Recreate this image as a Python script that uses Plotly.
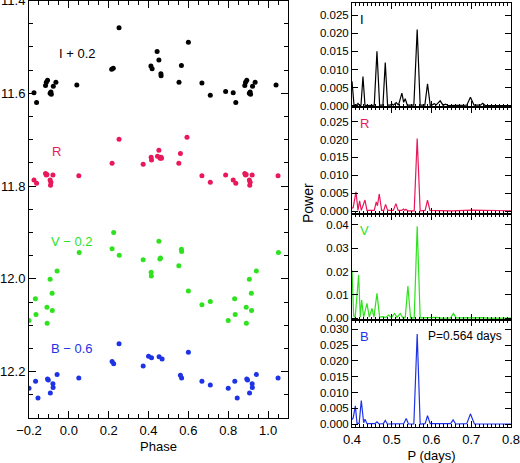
import plotly.graph_objects as go

# ---- light curves (phase in [0,1), magnitude incl. offset) ----
I_PHASE = [0.04, 0.215, 0.223, 0.252, 0.412, 0.418, 0.443, 0.452, 0.462, 0.463, 0.553, 0.565,
           0.600, 0.668, 0.710, 0.787, 0.825, 0.838, 0.883, 0.887, 0.893, 0.906, 0.910, 0.912,
           0.922, 0.935]
I_MAG = [11.582, 11.548, 11.546, 11.459, 11.541, 11.547, 11.510, 11.528, 11.558, 11.562, 11.576, 11.540,
         11.490, 11.578, 11.604, 11.596, 11.599, 11.620, 11.583, 11.576, 11.572, 11.600, 11.597, 11.602,
         11.585, 11.576]

R_PHASE = [0.05, 0.217, 0.252, 0.373, 0.413, 0.415, 0.445, 0.452, 0.458, 0.463, 0.465, 0.552,
           0.560, 0.593, 0.668, 0.710, 0.787, 0.825, 0.838, 0.883, 0.887, 0.890, 0.906, 0.910,
           0.908, 0.920]
R_MAG = [11.778, 11.751, 11.699, 11.753, 11.738, 11.744, 11.736, 11.723, 11.740, 11.738, 11.740, 11.751,
         11.730, 11.695, 11.778, 11.792, 11.776, 11.787, 11.794, 11.773, 11.776, 11.775, 11.787, 11.792,
         11.798, 11.776]

V_PHASE = [0.052, 0.217, 0.225, 0.253, 0.373, 0.413, 0.414, 0.452, 0.457, 0.460, 0.552, 0.565,
           0.566, 0.600, 0.668, 0.710, 0.800, 0.832, 0.835, 0.890, 0.891, 0.906, 0.916, 0.917, 0.941]
V_MAG = [11.943, 11.935, 11.900, 11.949, 11.959, 11.986, 11.994, 11.919, 11.957, 11.955, 11.972, 11.936,
         11.941, 12.026, 12.056, 12.049, 12.090, 12.043, 12.077, 12.061, 12.096, 12.001, 12.031, 12.068,
         11.983]

B_PHASE = [0.05, 0.217, 0.225, 0.252, 0.373, 0.400, 0.415, 0.453, 0.468, 0.560, 0.566, 0.600,
           0.668, 0.710, 0.800, 0.833, 0.845, 0.893, 0.897, 0.920, 0.921, 0.907, 0.941]
B_MAG = [12.214, 12.178, 12.183, 12.140, 12.188, 12.167, 12.170, 12.168, 12.173, 12.208, 12.214, 12.158,
         12.221, 12.229, 12.236, 12.221, 12.257, 12.216, 12.218, 12.226, 12.234, 12.246, 12.206]

# ---- periodograms (period in days, power) ----
I_P = [0.4000, 0.4050, 0.4110, 0.4151, 0.4190, 0.4226, 0.4276, 0.4326, 0.4400, 0.4560, 0.4628, 0.4695,
       0.4778, 0.4837, 0.4895, 0.4960, 0.5004, 0.5040, 0.5113, 0.5170, 0.5255, 0.5300, 0.5339, 0.5390,
       0.5556, 0.5640, 0.5715, 0.5833, 0.5900, 0.5967, 0.6020, 0.6067, 0.6120, 0.6218, 0.6290, 0.6351,
       0.6420, 0.6887, 0.6979, 0.7071, 0.7230, 0.7289, 0.7350, 0.8000]
I_POW = [0.0068, 0.0003, 0.0002, 0.0007, 0.0001, 0.0002, 0.0081, 0.0002, 0.0001, 0.0002, 0.0150, 0.0002,
         0.0002, 0.0119, 0.0002, 0.0002, 0.0005, 0.0002, 0.0009, 0.0002, 0.0035, 0.0010, 0.0020, 0.0002,
         0.0002, 0.0210, 0.0002, 0.0002, 0.0061, 0.0002, 0.0003, 0.0006, 0.0003, 0.0014, 0.0002, 0.0005,
         0.0001, 0.0002, 0.0024, 0.0002, 0.0002, 0.0007, 0.0001, 0.0001]

R_P = [0.4000, 0.4030, 0.4100, 0.4151, 0.4192, 0.4234, 0.4326, 0.4377, 0.4560, 0.4610, 0.4640, 0.4686,
       0.4745, 0.4800, 0.4845, 0.4895, 0.5040, 0.5105, 0.5160, 0.5250, 0.5297, 0.5330, 0.5356, 0.5400,
       0.5565, 0.5640, 0.5715, 0.5840, 0.5900, 0.5960, 0.6500, 0.7013, 0.8000]
R_POW = [0.0008, 0.0010, 0.0054, 0.0002, 0.0029, 0.0002, 0.0031, 0.0002, 0.0002, 0.0026, 0.0015, 0.0048,
         0.0002, 0.0002, 0.0019, 0.0002, 0.0002, 0.0021, 0.0002, 0.0002, 0.0006, 0.0002, 0.0005, 0.0001,
         0.0001, 0.0203, 0.0001, 0.0002, 0.0031, 0.0002, 0.0001, 0.0003, 0.0001]

V_P = [0.4000, 0.4042, 0.4080, 0.4167, 0.4209, 0.4243, 0.4293, 0.4377, 0.4435, 0.4502, 0.4552, 0.4628,
       0.4695, 0.4778, 0.4845, 0.4921, 0.4990, 0.5071, 0.5130, 0.5213, 0.5280, 0.5339, 0.5406, 0.5473,
       0.5565, 0.5640, 0.5715, 0.5883, 0.5950, 0.6134, 0.6250, 0.6480, 0.6552, 0.6620, 0.7289, 0.7400,
       0.8000]
V_POW = [0.0206, 0.0010, 0.0005, 0.0185, 0.0005, 0.0078, 0.0005, 0.0064, 0.0005, 0.0043, 0.0005, 0.0107,
         0.0005, 0.0007, 0.0003, 0.0014, 0.0003, 0.0021, 0.0004, 0.0021, 0.0002, 0.0003, 0.0138, 0.0002,
         0.0002, 0.0394, 0.0002, 0.0003, 0.0001, 0.0004, 0.0001, 0.0002, 0.0021, 0.0002, 0.0003, 0.0001,
         0.0001]

B_P = [0.4000, 0.4030, 0.4084, 0.4126, 0.4180, 0.4234, 0.4293, 0.4326, 0.4377, 0.4580, 0.4628, 0.4680,
       0.4790, 0.4837, 0.4890, 0.5110, 0.5155, 0.5200, 0.5300, 0.5364, 0.5420, 0.5556, 0.5640, 0.5715,
       0.5840, 0.5900, 0.5967, 0.6480, 0.6544, 0.6610, 0.6887, 0.6979, 0.7079, 0.8000]
B_POW = [0.0015, 0.0020, 0.0058, 0.0003, 0.0003, 0.0075, 0.0005, 0.0016, 0.0002, 0.0002, 0.0008, 0.0001,
         0.0002, 0.0012, 0.0001, 0.0001, 0.0003, 0.0001, 0.0002, 0.0018, 0.0001, 0.0001, 0.0285, 0.0001,
         0.0002, 0.0027, 0.0002, 0.0002, 0.0014, 0.0001, 0.0002, 0.0033, 0.0001, 0.0001]

P_TICKS = [0.4, 0.5, 0.6, 0.7, 0.8]
PHASE_TICKS = [-0.2, 0.0, 0.2, 0.4, 0.6, 0.8, 1.0]
MAG_TICKS = [11.4, 11.6, 11.8, 12.0, 12.2]

BLACK, RED, GREEN, BLUE = "#000000", "#E8185A", "#2EE21E", "#1E32E6"
FONT = "Liberation Sans, Arial, Helvetica, sans-serif"
W, H = 520, 463


def fold(phase, mag, lo=-0.2001, hi=1.1):
    xs, ys = [], []
    for p, m in zip(phase, mag):
        for s in (-1, 0, 1):
            if lo <= p + s <= hi:
                xs.append(p + s)
                ys.append(m)
    return xs, ys


def px_dom(a, b):
    return [a / W, b / W]


def py_dom(top, bot):
    return [(H - bot) / H, (H - top) / H]


fig = go.Figure()

for ph, mg, c in [(I_PHASE, I_MAG, BLACK), (R_PHASE, R_MAG, RED), (V_PHASE, V_MAG, GREEN), (B_PHASE, B_MAG, BLUE)]:
    xs, ys = fold(ph, mg)
    fig.add_trace(go.Scatter(x=xs, y=ys, mode="markers", marker=dict(size=5, color=c),
                             xaxis="x", yaxis="y", showlegend=False))

curves = [(I_P, I_POW, BLACK), (R_P, R_POW, RED), (V_P, V_POW, GREEN), (B_P, B_POW, BLUE)]
for i, (p, pw, c) in enumerate(curves):
    fig.add_trace(go.Scatter(x=p, y=pw, mode="lines", line=dict(color=c, width=1.2),
                             xaxis=f"x{i + 2}", yaxis=f"y{i + 2}", showlegend=False))

axis_common = dict(showline=True, linecolor="black", linewidth=1, mirror="allticks", ticks="inside",
                   tickcolor="black", showgrid=False, zeroline=False, automargin=False,
                   ticklabeloverflow="allow",
                   tickfont=dict(family=FONT, size=13, color="black"))

layout = dict(
    template="none",
    width=W, height=H, margin=dict(l=0, r=0, t=0, b=0, autoexpand=False),
    plot_bgcolor="white", paper_bgcolor="white", font=dict(family=FONT, color="black"),
    xaxis=dict(axis_common, domain=px_dom(29, 288), range=[-0.2, 1.1], tickvals=PHASE_TICKS, ticklen=7,
               tickformat=".1f", minor=dict(dtick=0.05, tick0=0, ticklen=4, ticks="inside", tickcolor="black"),
               title=dict(text="Phase", font=dict(family=FONT, size=13), standoff=5), anchor="y"),
    yaxis=dict(axis_common, domain=py_dom(0.5, 418), range=[12.3, 11.4], tickvals=MAG_TICKS, ticklen=7,
               tickformat=".1f", minor=dict(dtick=0.05, tick0=11.4, ticklen=4, ticks="inside", tickcolor="black"),
               anchor="x"),
)

panels = [(3, 107, [-0.0003, 0.0283], 0.005, ".3f"),
          (107, 214, [-0.0008, 0.0291], 0.005, ".3f"),
          (214, 320, [-0.0007, 0.0446], 0.01, ".2f"),
          (320, 427, [-0.00085, 0.0329], 0.005, ".3f")]
for i, (top, bot, yr, dt, fmt) in enumerate(panels):
    n = i + 2
    xa = dict(axis_common, domain=px_dom(352, 511), range=[0.4, 0.8], tickvals=P_TICKS, ticklen=6,
              tickformat=".1f", minor=dict(dtick=0.01, tick0=0.4, ticklen=3, ticks="inside", tickcolor="black"),
              anchor=f"y{n}", showticklabels=(i == 3))
    if i == 3:
        xa["title"] = dict(text="P (days)", font=dict(family=FONT, size=13), standoff=5)
    layout[f"xaxis{n}"] = xa
    layout[f"yaxis{n}"] = dict(axis_common, domain=py_dom(top, bot), range=yr, tick0=0, dtick=dt,
                               ticklen=6, tickformat=fmt, anchor=f"x{n}",
                               tickfont=dict(family=FONT, size=11.5, color="black"))

fig.update_layout(**layout)

# band labels on the light-curve panel
labels = [("I + 0.2", -0.058, 11.514, BLACK), ("R", -0.095, 11.726, RED),
          ("V \u2212 0.2", -0.1, 11.920, GREEN), ("B \u2212 0.6", -0.1, 12.150, BLUE)]
for t, x, y, c in labels:
    fig.add_annotation(text=t, x=x, y=y, xref="x", yref="y", xanchor="left", yanchor="middle",
                       showarrow=False, font=dict(family=FONT, size=13, color=c))

# filter labels on periodograms
for i, (t, c) in enumerate([("I", BLACK), ("R", RED), ("V", GREEN), ("B", BLUE)]):
    n = i + 2
    fig.add_annotation(text=t, x=0.415, y=0.93, xref=f"x{n}", yref=f"y{n} domain", xanchor="left",
                       yanchor="top", showarrow=False, font=dict(family=FONT, size=13, color=c))

fig.add_annotation(text="P=0.564 days", x=0.585, y=0.93, xref="x5", yref="y5 domain", xanchor="left",
                   yanchor="top", showarrow=False, font=dict(family=FONT, size=12, color="black"))
fig.add_annotation(text="Power", x=308 / W, y=(H - 203) / H, xref="paper", yref="paper", textangle=-90,
                   showarrow=False, font=dict(family=FONT, size=14, color="black"))

# the page body has a default 8px margin; drop it so the figure sits at the window origin
fig.write_html("out.html", config={"displayModeBar": False},
               post_script="document.body.style.margin='0';")
